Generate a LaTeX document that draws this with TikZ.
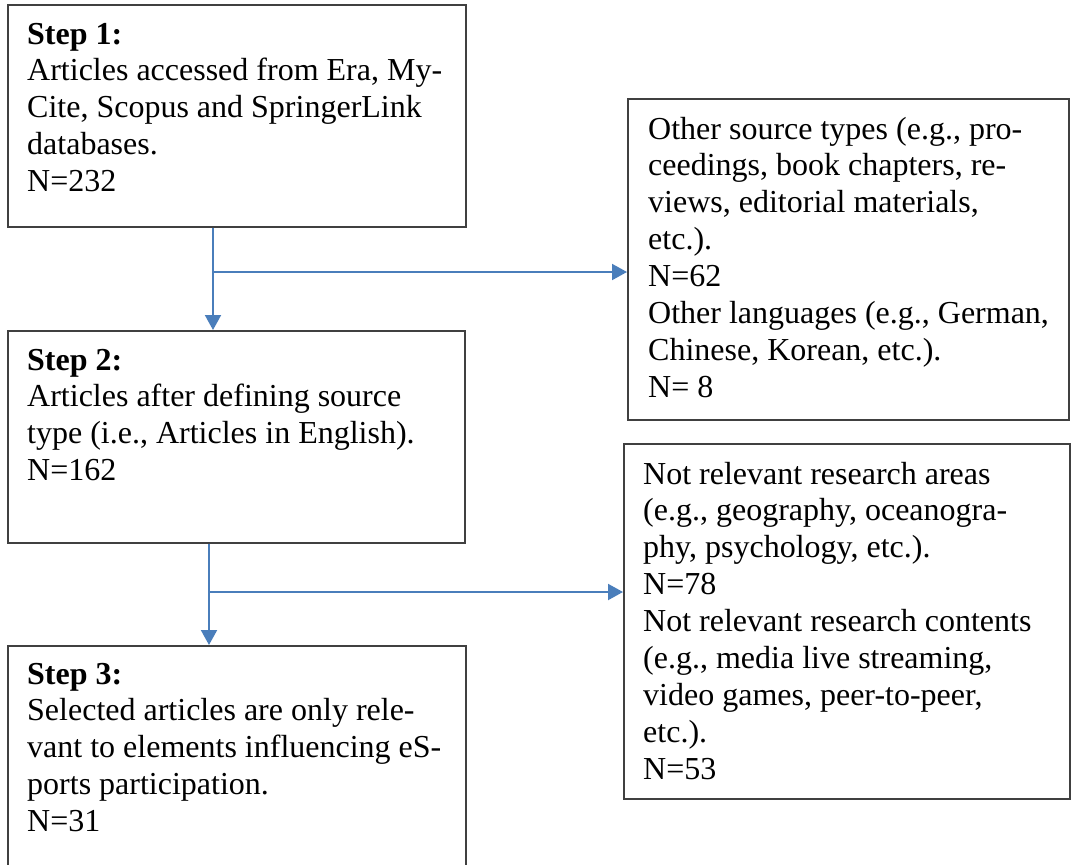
\documentclass[tikz,border=0pt]{standalone}
\usepackage{fontspec}
\setmainfont{Liberation Serif}
\usetikzlibrary{arrows.meta}
\definecolor{boxLineColor}{HTML}{404040}
\definecolor{flowColor}{HTML}{4A7EBB}
\def\textStepA{\textbf{Step 1:}\\Articles accessed from Era, My-\\Cite, Scopus and SpringerLink\\databases.\\N=232}
\def\textStepB{\textbf{Step 2:}\\Articles after defining source\\type (i.e., Articles in English).\\N=162}
\def\textStepC{\textbf{Step 3:}\\Selected articles are only rele-\\vant to elements influencing eS-\\ports participation.\\N=31}
\def\textExcA{Other source types (e.g., pro-\\ceedings, book chapters, re-\\views, editorial materials,\\etc.).\\N=62\\Other languages (e.g., German,\\Chinese, Korean, etc.).\\N= 8}
\def\textExcB{Not relevant research areas\\(e.g., geography, oceanogra-\\phy, psychology, etc.).\\N=78\\Not relevant research contents\\(e.g., media live streaming,\\video games, peer-to-peer,\\etc.).\\N=53}

\begin{document}
\begin{tikzpicture}[x=1bp,y=-1bp,
stepbox/.style={draw=boxLineColor, line width=1.5bp, inner sep=0pt, anchor=north west},
boxtext/.style={inner sep=0pt, anchor=base west, font=\fontsize{32bp}{36.9bp}\selectfont},
flow/.style={draw=flowColor, line width=2bp, -{Triangle[length=15bp,width=16bp]}}]

% page
\useasboundingbox (0, 0) rectangle (1074, 865);
\clip (0, 0) rectangle (1074, 865);

% box layer
\begin{scope}
\node[stepbox, minimum width=458bp, minimum height=222bp] (stepA) at (7, 4) {};
\node[stepbox, minimum width=457bp, minimum height=212bp] (stepB) at (7, 330) {};
\node[stepbox, minimum width=458bp, minimum height=260bp] (stepC) at (7, 645) {};
\node[stepbox, minimum width=441bp, minimum height=321bp] (excA) at (627, 98) {};
\node[stepbox, minimum width=446bp, minimum height=355bp] (excB) at (623, 443) {};
\end{scope}

% label layer
\begin{scope}
\node[boxtext] (stepAtext) at ([shift={(20, 40)}]stepA.north west) {\parbox[t]{440bp}{\textStepA}};
\node[boxtext] (stepBtext) at ([shift={(20, 40)}]stepB.north west) {\parbox[t]{440bp}{\textStepB}};
\node[boxtext] (stepCtext) at ([shift={(20, 39)}]stepC.north west) {\parbox[t]{440bp}{\textStepC}};
\node[boxtext] (excAtext) at ([shift={(21, 41)}]excA.north west) {\parbox[t]{430bp}{\textExcA}};
\node[boxtext] (excBtext) at ([shift={(20, 41)}]excB.north west) {\parbox[t]{430bp}{\textExcB}};
\end{scope}

% link layer
\begin{scope}
\coordinate (splitA) at (213, 272);
\coordinate (splitB) at (209, 592);
\draw[flow] (splitA |- stepA.south) -- (splitA |- stepB.north);
\draw[flow] (splitA) -- (splitA -| excA.west);
\draw[flow] (splitB |- stepB.south) -- (splitB |- stepC.north);
\draw[flow] (splitB) -- (splitB -| excB.west);
\end{scope}

\end{tikzpicture}
\end{document}
